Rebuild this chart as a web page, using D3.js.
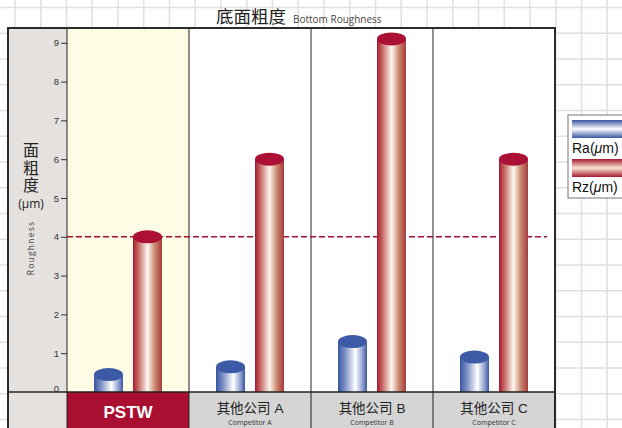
<!DOCTYPE html>
<html>
<head>
<meta charset="utf-8">
<script src="https://cdn.jsdelivr.net/npm/d3@7/dist/d3.min.js"></script>
<style>
  html, body { margin: 0; padding: 0; background: #fff; overflow: hidden; }
  svg { display: block; }
</style>
</head>
<body>
<script>
// data
var companies = ["PSTW", "其他公司 A", "其他公司 B", "其他公司 C"];
var companiesEn = ["", "Competitor A", "Competitor B", "Competitor C"];
var ra = [0.45, 0.65, 1.3, 0.9];
var rz = [4.0, 6.0, 9.1, 6.0];
var yTicks = [0, 1, 2, 3, 4, 5, 6, 7, 8, 9];
var refLine = 4;

var width = 622, height = 428;
var cjk = "'Noto Sans CJK SC', sans-serif";
var latin = "'Liberation Sans', Arial, sans-serif";
var mixed = "'Liberation Sans', 'Noto Sans CJK SC', sans-serif";

var svg = d3.select("body").append("svg")
    .attr("width", width)
    .attr("height", height);

var defs = svg.append("defs");

function grad(id, stops, vertical) {
  var g = defs.append("linearGradient").attr("id", id)
      .attr("x1", 0).attr("y1", 0)
      .attr("x2", vertical ? 0 : 1).attr("y2", vertical ? 1 : 0);
  stops.forEach(function(s) {
    g.append("stop").attr("offset", s[0]).attr("stop-color", s[1]);
  });
}
var blueStops = [[0, "#3a56a3"], [0.25, "#7f92c8"], [0.6, "#ffffff"], [0.85, "#8d9fd0"], [1, "#3a56a3"]];
var redStops = [[0, "#a8182f"], [0.2, "#c8706a"], [0.5, "#fff6f0"], [0.75, "#c98a72"], [1, "#a83a3c"]];
grad("gBlue", blueStops, false);
grad("gRed", redStops, false);
grad("gBlueV", [[0, "#3a56a3"], [0.5, "#ffffff"], [1, "#3a56a3"]], true);
grad("gRedV", [[0, "#a8182f"], [0.5, "#fbe6d8"], [1, "#a8182f"]], true);

// grid paper background
var gridX = d3.range(15, width, 25.75);
var gridY = d3.range(7.5, height, 25.75);
svg.append("g").selectAll("line").data(gridX).enter().append("line")
    .attr("x1", function(d) { return d; }).attr("x2", function(d) { return d; })
    .attr("y1", 0).attr("y2", height)
    .attr("stroke", "#e4dfdb").attr("stroke-width", 1.5);
svg.append("g").selectAll("line").data(gridY).enter().append("line")
    .attr("y1", function(d) { return d; }).attr("y2", function(d) { return d; })
    .attr("x1", 0).attr("x2", width)
    .attr("stroke", "#e4dfdb").attr("stroke-width", 1.5);

// layout
var frameL = 8, frameT = 28, frameR = 555, frameB = 440;
var plotL = 67;
var baseY = 392;

var x = d3.scaleBand().domain(companies).range([plotL, frameR]);
var y = d3.scaleLinear().domain([0, 9]).range([baseY, 42.8]);

// panels
svg.append("rect").attr("x", frameL).attr("y", frameT)
    .attr("width", plotL - frameL).attr("height", frameB - frameT)
    .attr("fill", "#e5e1df");
svg.append("g").selectAll("rect").data(companies).enter().append("rect")
    .attr("x", function(d) { return x(d); })
    .attr("y", frameT)
    .attr("width", x.bandwidth())
    .attr("height", baseY - frameT)
    .attr("fill", function(d, i) { return i === 0 ? "#fefce4" : "#ffffff"; });

// category label boxes
svg.append("g").selectAll("rect").data(companies).enter().append("rect")
    .attr("x", function(d) { return x(d); })
    .attr("y", baseY)
    .attr("width", x.bandwidth())
    .attr("height", frameB - baseY)
    .attr("fill", function(d, i) { return i === 0 ? "#a80f30" : "#d5d5d5"; });

// column dividers
svg.append("g").selectAll("line").data(companies.slice(1)).enter().append("line")
    .attr("x1", function(d) { return x(d); }).attr("x2", function(d) { return x(d); })
    .attr("y1", frameT).attr("y2", frameB)
    .attr("stroke", "#222").attr("stroke-width", 1);
svg.append("line").attr("x1", plotL).attr("x2", plotL)
    .attr("y1", frameT).attr("y2", frameB)
    .attr("stroke", "#222").attr("stroke-width", 1);

// y axis
var axis = svg.append("g").attr("transform", "translate(" + plotL + ",0)")
    .call(d3.axisLeft(y).tickValues(yTicks).tickSize(6).tickPadding(2).tickFormat(d3.format("d")));
axis.select(".domain").remove();
axis.selectAll("line").attr("stroke", "#333");
axis.selectAll("text").attr("font-family", latin).attr("font-size", 9.5).attr("fill", "#333");
axis.selectAll(".tick").filter(function(d) { return d === 0; }).each(function() {
  d3.select(this).select("line").remove();
  d3.select(this).select("text").attr("dy", "-0.1em").attr("x", -8);
});

// reference dashed line
svg.append("line")
    .attr("x1", plotL).attr("x2", 547)
    .attr("y1", y(refLine)).attr("y2", y(refLine))
    .attr("stroke", "#a80c30").attr("stroke-width", 1.6)
    .attr("stroke-dasharray", "6,3");

// cylinders
var barW = 29, off = 19.5, ry = 6.5;
function cylinders(vals, cx, fill, top) {
  var g = svg.append("g").selectAll("g").data(vals).enter().append("g");
  g.append("rect")
      .attr("x", function(d, i) { return x(companies[i]) + x.bandwidth() / 2 + cx - barW / 2; })
      .attr("y", function(d) { return y(d); })
      .attr("width", barW)
      .attr("height", function(d) { return baseY - y(d); })
      .attr("fill", fill);
  g.append("ellipse")
      .attr("cx", function(d, i) { return x(companies[i]) + x.bandwidth() / 2 + cx; })
      .attr("cy", function(d) { return y(d); })
      .attr("rx", barW / 2).attr("ry", ry)
      .attr("fill", top);
}
cylinders(ra, -off, "url(#gBlue)", "#3c5aa6");
cylinders(rz, off, "url(#gRed)", "#ac1034");

// baseline
svg.append("line").attr("x1", frameL).attr("x2", frameR)
    .attr("y1", baseY).attr("y2", baseY)
    .attr("stroke", "#222").attr("stroke-width", 1.5);

// frame
svg.append("rect").attr("x", frameL).attr("y", frameT)
    .attr("width", frameR - frameL).attr("height", frameB - frameT)
    .attr("fill", "none").attr("stroke", "#2a2a2a").attr("stroke-width", 2);

// category labels
var lab = svg.append("g").selectAll("g").data(companies).enter().append("g")
    .attr("transform", function(d) { return "translate(" + (x(d) + x.bandwidth() / 2) + ",0)"; });
lab.append("text")
    .attr("y", function(d, i) { return i === 0 ? 418 : 413; })
    .attr("text-anchor", "middle")
    .attr("font-family", function(d, i) { return i === 0 ? latin : mixed; })
    .attr("font-weight", function(d, i) { return i === 0 ? "bold" : "normal"; })
    .attr("font-size", function(d, i) { return i === 0 ? 17 : 13.5; })
    .attr("fill", function(d, i) { return i === 0 ? "#fff" : "#222"; })
    .text(function(d) { return d; });
lab.append("text")
    .attr("y", 424.5)
    .attr("text-anchor", "middle")
    .attr("font-family", "'Open Sans', sans-serif")
    .attr("font-size", 7)
    .attr("fill", "#333")
    .text(function(d, i) { return companiesEn[i]; });

// title
var title = svg.append("text").attr("x", 216).attr("y", 23);
title.append("tspan").attr("font-family", cjk).attr("font-size", 17.5).attr("fill", "#222").text("底面粗度");
title.append("tspan").attr("dx", 7).attr("font-family", "'Open Sans', sans-serif").attr("font-size", 10).attr("fill", "#444").text("Bottom Roughness");

// y title: stacked characters as vertical text
svg.append("text")
    .attr("x", 31).attr("y", 142)
    .attr("writing-mode", "tb")
    .attr("font-family", cjk).attr("font-size", 16).attr("letter-spacing", 1.5)
    .attr("fill", "#222")
    .text("面粗度");
svg.append("text").attr("x", 31).attr("y", 208).attr("font-size", 12)
    .attr("text-anchor", "middle").attr("fill", "#222")
    .attr("font-family", "'Open Sans', sans-serif").text("(μm)");
svg.append("text")
    .attr("transform", "translate(34,248) rotate(-90)")
    .attr("text-anchor", "middle")
    .attr("font-family", "'Open Sans', sans-serif")
    .attr("font-size", 8.5).attr("letter-spacing", 1.2)
    .attr("fill", "#444")
    .text("Roughness");

// legend
var legend = svg.append("g");
legend.append("rect").attr("x", 568).attr("y", 115).attr("width", 80).attr("height", 83)
    .attr("fill", "#fff").attr("stroke", "#777").attr("stroke-width", 1);
var legItems = [["Ra", "url(#gBlueV)"], ["Rz", "url(#gRedV)"]];
legItems.forEach(function(it, i) {
  legend.append("rect").attr("x", 572).attr("y", 120 + i * 39).attr("width", 60).attr("height", 18)
      .attr("fill", it[1]);
  var t = legend.append("text").attr("x", 572).attr("y", 153 + i * 39)
      .attr("font-family", latin).attr("font-size", 14).attr("fill", "#111");
  t.append("tspan").text(it[0] + "(");
  t.append("tspan").attr("font-style", "italic").text("μ");
  t.append("tspan").text("m)");
});
</script>
</body>
</html>
